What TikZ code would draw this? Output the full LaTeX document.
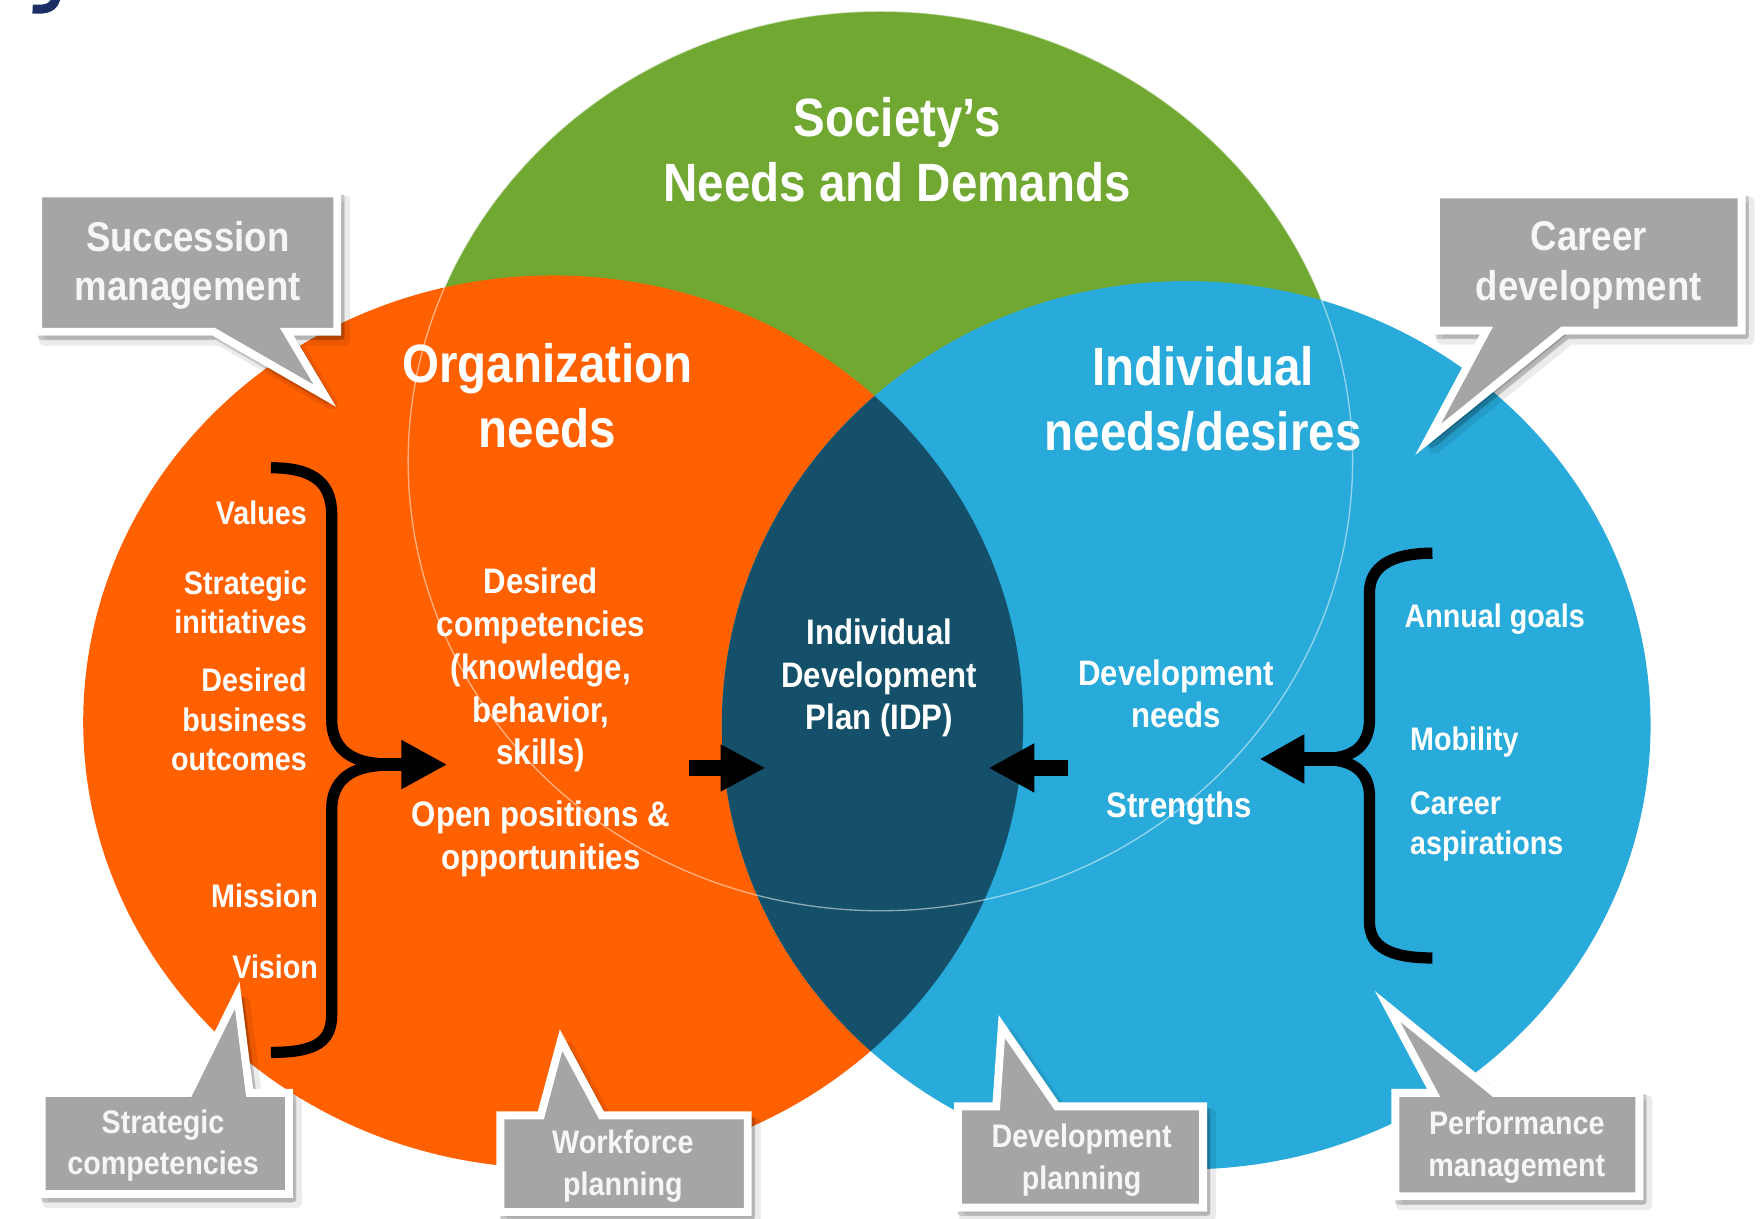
\documentclass[tikz,border=0pt]{standalone}
\usepackage{fontspec}
\setmainfont[FakeStretch=0.88]{Liberation Sans}
\usetikzlibrary{calc}
\definecolor{sgreen}{RGB}{112,168,50}
\definecolor{sorange}{RGB}{255,96,0}
\definecolor{sblue}{RGB}{40,170,218}
\definecolor{slens}{RGB}{20,80,105}
\definecolor{callgray}{RGB}{165,165,165}
\definecolor{calltext}{RGB}{246,246,246}
\definecolor{snavy}{RGB}{26,48,100}
\tikzset{
  titletext/.style={text=white,font=\bfseries\fontsize{48}{58}\selectfont,align=center,inner sep=0pt},
  midtext/.style={text=white,font=\bfseries\fontsize{31.5}{38}\selectfont,align=center,inner sep=0pt},
  listtext/.style={text=white,font=\bfseries\fontsize{29}{35}\selectfont,inner sep=0pt},
  bigcall/.style={text=calltext,font=\bfseries\fontsize{37}{44}\selectfont,align=center,inner sep=0pt},
  smallcall/.style={text=calltext,font=\bfseries\fontsize{29}{37}\selectfont,align=center,inner sep=0pt},
  callshape/.style={fill=callgray,draw=white,line width=7pt,line join=miter},
  callshadowa/.style={fill=black,draw=black,line width=7pt,opacity=0.16,line join=round},
  callshadowb/.style={fill=black,draw=black,line width=11pt,opacity=0.08,line join=round},
  bracestroke/.style={draw=black,line width=10pt},
  shaftstroke/.style={draw=black,line width=12pt},
  headfill/.style={fill=black},
}
\newcommand\mycallout[1]{%
  \path[callshadowb,shift={(6,7)}] #1;
  \path[callshadowa,shift={(3,4)}] #1;
  \path[callshape] #1;}
\begin{document}
\begin{tikzpicture}[x=1pt,y=-1pt]
\useasboundingbox (0,0) rectangle (1568,1084);
\fill[white] (0,0) rectangle (1568,1084);

% fragment of cut title letter
\draw[snavy,line width=8pt] (50,-4) .. controls (49,7) and (41,9) .. (29,8);

% circles
\fill[sgreen] (783,410) ellipse [x radius=420pt, y radius=400pt];
\fill[sorange] (492,642) ellipse [x radius=418pt, y radius=397pt];
\fill[sblue] (1055,645) ellipse [x radius=413pt, y radius=395pt];
\begin{scope}
  \clip (492,642) ellipse [x radius=418pt, y radius=397pt];
  \fill[slens] (1055,645) ellipse [x radius=413pt, y radius=395pt];
\end{scope}
\draw[white,opacity=0.5,line width=1.2pt] (783,410) ellipse [x radius=420pt, y radius=400pt];

% titles
\node[titletext] (soc) at (798,133) {Society’s\\Needs and Demands};
\node[titletext] (org) at (487,352) {Organization\\needs};
\node[titletext] (ind) at (1070,355) {Individual\\needs/desires};

% left list
\node[listtext,anchor=east] (values) at (273,456) {Values};
\node[listtext,anchor=east,align=right] (stratinit) at (273,536) {Strategic\\initiatives};
\node[listtext,anchor=east,align=right] (desbus) at (273,640) {Desired\\business\\outcomes};
\node[listtext,anchor=east] (mission) at (283,797) {Mission};
\node[listtext,anchor=east] (vision) at (283,860) {Vision};

% middle texts
\node[midtext] (descomp) at (481,596) {Desired\\competencies\\(knowledge,\\behavior,\\skills)};
\node[midtext] (openpos) at (481,746) {Open positions \&\\opportunities};
\node[midtext] (idp) at (782,603) {Individual\\Development\\Plan (IDP)};
\node[midtext] (devneeds) at (1046,617) {Development\\needs};
\node[midtext] (strengths) at (1049,719) {Strengths};

% right list
\node[listtext,anchor=west] (annual) at (1249,551) {Annual goals};
\node[listtext,anchor=west] (mobility) at (1254,660) {Mobility};
\node[listtext,anchor=west,align=left] (career) at (1254,735) {Career\\aspirations};

% left brace and arrow
\coordinate (lbtop) at (241,416);
\coordinate (lbbot) at (241,936);
\coordinate (lbj) at (322,680);
\coordinate (lbh) at (360,680);
\coordinate (lbtip) at (397,680);
\draw[bracestroke] (lbtop) .. controls (282,416) and (295,432) .. (295,458) -- (295,640) .. controls (295,664) and (310,677) .. (336,679);
\draw[bracestroke] (336,681) .. controls (310,683) and (295,696) .. (295,720) -- (295,902) .. controls (295,926) and (282,936) .. (lbbot);
\draw[shaftstroke] (lbj) -- (lbh);
\fill[headfill] (357,658) -- (lbtip) -- (357,702) -- cycle;

% right brace and arrow
\coordinate (rbtop) at (1274,492);
\coordinate (rbbot) at (1274,852);
\coordinate (rbj) at (1192,675);
\coordinate (rbh) at (1156,675);
\coordinate (rbtip) at (1121,675);
\draw[bracestroke] (rbtop) .. controls (1236,492) and (1218,505) .. (1218,527) -- (1218,640) .. controls (1218,660) and (1207,672) .. (1186,674);
\draw[bracestroke] (1186,676) .. controls (1207,678) and (1218,690) .. (1218,708) -- (1218,820) .. controls (1218,842) and (1236,852) .. (rbbot);
\draw[shaftstroke] (rbj) -- (rbh);
\fill[headfill] (1160,653) -- (rbtip) -- (1160,697) -- cycle;

% middle arrows
\coordinate (mltip) at (680,683);
\coordinate (mrtip) at (880,683);
\fill[headfill] (613,676) rectangle (643,690);
\fill[headfill] (641,662) -- (mltip) -- (641,704) -- cycle;
\fill[headfill] (918,676) rectangle (950,690);
\fill[headfill] (920,661) -- (mrtip) -- (920,705) -- cycle;

% callouts
\mycallout{(34,172) -- (300,172) -- (300,295) -- (255,295) -- (289,352) -- (190,295) -- (34,295) -- cycle}
\node[bigcall] (succ) at (167,236) {Succession\\management};

\mycallout{(1277,173) -- (1549,173) -- (1549,294) -- (1390,294) -- (1270,391) -- (1322,294) -- (1277,294) -- cycle}
\node[bigcall] (cardev) at (1413,236) {Career\\development};

\mycallout{(37,972) -- (168,972) -- (211,885) -- (222,972) -- (257,972) -- (257,1062) -- (37,1062) -- cycle}
\node[smallcall] (stratcomp) at (145,1019) {Strategic\\competencies};

\mycallout{(445,992) -- (481,992) -- (499,925) -- (535,992) -- (665,992) -- (665,1078) -- (445,1078) -- cycle}
\node[smallcall] (workforce) at (554,1037) {Workforce\\planning};

\mycallout{(852,984) -- (886,984) -- (891,913) -- (940,984) -- (1070,984) -- (1070,1074) -- (852,1074) -- cycle}
\node[smallcall] (devplan) at (962,1032) {Development\\planning};

\mycallout{(1241,972) -- (1275,972) -- (1234,895) -- (1329,972) -- (1458,972) -- (1458,1064) -- (1241,1064) -- cycle}
\node[smallcall] (perf) at (1349,1020) {Performance\\management};
\end{tikzpicture}
\end{document}
